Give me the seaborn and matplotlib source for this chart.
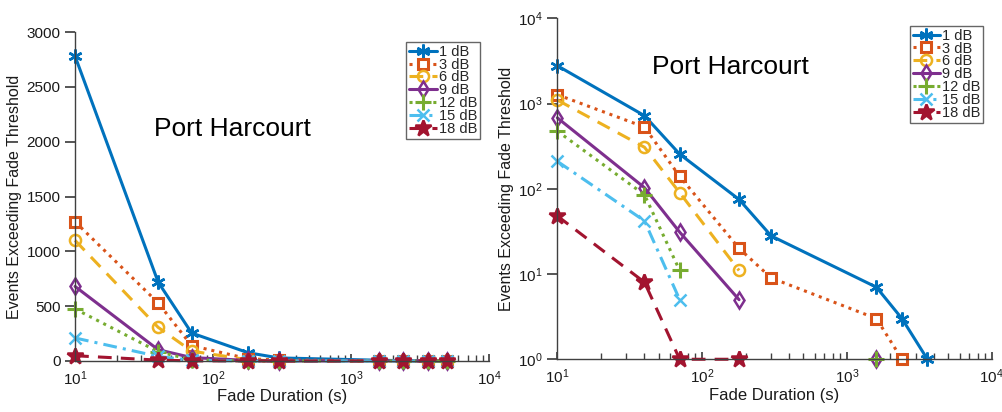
import numpy as np
import pandas as pd
import matplotlib
matplotlib.use("Agg")
import matplotlib.pyplot as plt
import seaborn as sns

sns.set_theme(style="white")
plt.rcParams['font.family'] = ['Liberation Sans', 'DejaVu Sans']

# ---- data ----
durations = [10, 40, 70, 180, 300, 1600, 2400, 3600, 5000]
thresholds = ["1 dB", "3 dB", "6 dB", "9 dB", "12 dB", "15 dB", "18 dB"]
ev_1dB = [2780, 720, 255, 75, 28, 7, 3, 1, 0]
ev_3dB = [1270, 530, 140, 20, 9, 3, 1, 0, 0]
ev_6dB = [1100, 307, 90, 11, 0, 0, 0, 0, 0]
ev_9dB = [680, 103, 31, 5, 0, 1, 0, 0, 0]
ev_12dB = [475, 85, 11, 0, 0, 1, 0, 0, 0]
ev_15dB = [210, 42, 5, 0, 0, 0, 0, 0, 0]
ev_18dB = [48, 8, 1, 1, 0, 0, 0, 0, 0]
series = [ev_1dB, ev_3dB, ev_6dB, ev_9dB, ev_12dB, ev_15dB, ev_18dB]

colors = ["#0072BD", "#D95319", "#EDB120", "#7E2F8E", "#77AC30", "#4DBEEE", "#A2142F"]
styles = ["-", (0, (1, 1.6)), (0, (4.5, 3)), "-", (0, (1, 1.6)), (0, (4.5, 2, 1, 2)), (0, (4.5, 3))]
markers = [(6, 2, 0), "s", "o", "d", "+", "x", "*"]
mfaces = [None, "white", "none", "none", None, None, None]
msizes = [10, 6.5, 8, 8, 11, 8, 12]
mews = [1.8, 2.2, 1.8, 1.8, 2.2, 1.8, 1.8]

title = "Port Harcourt"
xlabel = "Fade Duration (s)"
ylabel = "Events Exceeding Fade Threshold"

fig = plt.figure(figsize=(10.02, 4.12), dpi=100)
ax1 = fig.add_axes([0.0749, 0.1238, 0.4131, 0.7985])
ax2 = fig.add_axes([0.5562, 0.1280, 0.4335, 0.8276])

spine_col = "#404040"


def draw_series(ax, x, y, i, label):
    kw = dict(color=colors[i], linestyle=styles[i], linewidth=2.2, marker=markers[i],
              markersize=msizes[i], markeredgewidth=mews[i], markeredgecolor=colors[i],
              clip_on=False, ax=ax, label=label)
    if mfaces[i] is not None:
        kw["markerfacecolor"] = mfaces[i]
    df = pd.DataFrame({"x": x, "y": y})
    sns.lineplot(data=df, x="x", y="y", sort=False, estimator=None, **kw)


# linear plot
for i, (lab, vals) in enumerate(zip(thresholds, series)):
    draw_series(ax1, durations, vals, i, lab)

# log plot: only positive values, break lines at zeros
for i, (lab, vals) in enumerate(zip(thresholds, series)):
    runs, cur = [], []
    for xv, yv in zip(durations, vals):
        if yv > 0:
            cur.append((xv, yv))
        else:
            if cur:
                runs.append(cur)
            cur = []
    if cur:
        runs.append(cur)
    for k, run in enumerate(runs):
        xs = [p[0] for p in run]
        ys = [p[1] for p in run]
        draw_series(ax2, xs, ys, i, lab if k == 0 else "_nolegend_")

for ax in (ax1, ax2):
    ax.set_xscale("log")
    ax.set_xlim(10, 1e4)
    for s in ("top", "right"):
        ax.spines[s].set_visible(False)
    for s in ("left", "bottom"):
        ax.spines[s].set_color(spine_col)
        ax.spines[s].set_linewidth(1.0)
    ax.tick_params(axis="x", which="major", direction="in", length=5, color=spine_col,
                   labelsize=11, labelcolor="#1a1a1a", pad=6)
    ax.tick_params(axis="x", which="minor", direction="in", length=4, color=spine_col)
    ax.tick_params(axis="y", which="major", direction="out", length=7, color=spine_col,
                   labelsize=11, labelcolor="#1a1a1a", left=True)
    ax.tick_params(axis="y", which="minor", left=False)
    ax.tick_params(axis="x", which="both", bottom=True)
    ax.set_xlabel(xlabel, fontsize=12, color="#1a1a1a", labelpad=1)
    ax.set_ylabel(ylabel, fontsize=11.5, color="#1a1a1a", labelpad=3)
    ax.set_facecolor("white")
    ax.grid(False)

ax1.set_ylim(0, 3000)
ax1.set_yticks([0, 500, 1000, 1500, 2000, 2500, 3000])
ax2.set_yscale("log")
ax2.set_ylim(1, 1e4)
ax2.set_yticks([1, 10, 100, 1000, 10000])
ax2.tick_params(axis="y", which="minor", left=False, length=0)

ax1.text(0.38, 0.705, title, transform=ax1.transAxes, ha="center", va="center",
         fontsize=19, color="black")
ax2.text(0.398, 0.857, title, transform=ax2.transAxes, ha="center", va="center",
         fontsize=19, color="black")

for ax, anchor in ((ax1, (0.978, 0.970)), (ax2, (0.980, 0.978))):
    leg = ax.legend(loc="upper right", bbox_to_anchor=anchor, fontsize=10.5,
                    frameon=True, fancybox=False, handlelength=1.9, handletextpad=0.1,
                    labelspacing=-0.08, borderpad=0.2, borderaxespad=0)
    leg.get_frame().set_edgecolor("#404040")
    leg.get_frame().set_linewidth(1.0)

fig.savefig("out.png", dpi=100, facecolor="white")
